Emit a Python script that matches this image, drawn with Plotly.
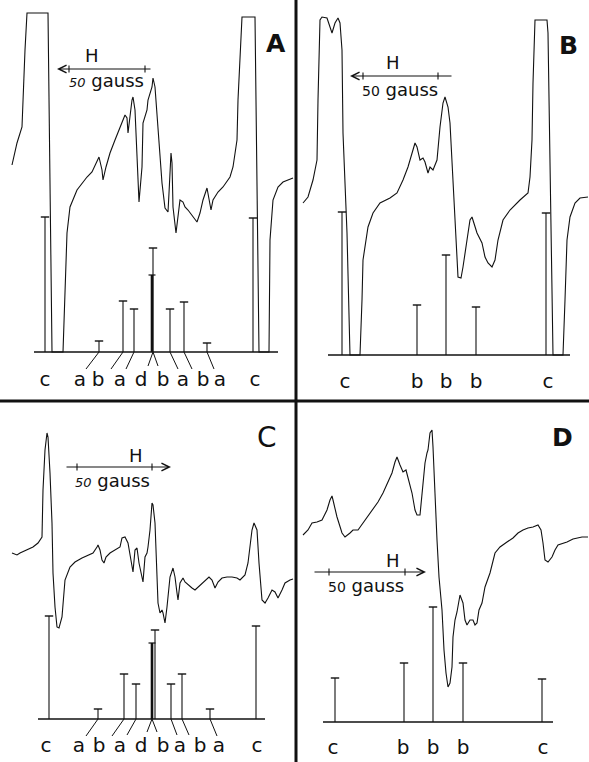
import plotly.graph_objects as go

# ---------------- data ----------------
W, H = 589, 762
XSPLIT, YSPLIT = 296, 401

# --- Panel A ---
fieldA = [12,17,22,23,25,27,48,52,63,67,70,77,87,92,97,99,102,103,106,110,115,120,125,127,128,132,133,135,137,139,
          142,143,147,148,152,153,155,158,162,165,168,169,171,172,173,176,178,180,183,185,188,192,197,200,203,207,208,
          211,213,218,223,230,233,237,238,240,242,255,259,269,270,273,278,283,293]
signalA = [187,209,225,252,302,339,339,0,0,119,145,162,175,180,192,195,182,172,185,199,212,225,237,234,219,252,255,242,192,150,
           185,229,242,252,265,274,265,219,169,144,140,159,199,189,145,119,135,152,150,145,142,137,130,139,152,164,159,
           142,152,160,165,175,185,212,252,302,335,335,0,0,112,152,165,170,174]
sticksA_pos = [45, 99, 123, 134, 153, 170, 184, 207, 253]
sticksA_h   = [135, 11, 51, 43, 104, 43, 50, 9, 134]
thickA_pos, thickA_h = [152], [77]
baseA = [34, 278]
labelsA_x = [45, 80, 98, 120, 141, 163, 183, 203, 220, 255]
labelsA   = ["c", "a", "b", "a", "d", "b", "a", "b", "a", "c"]
connA_from = [99, 123, 134, 153, 153, 170, 184, 207]
connA_to   = [86, 111, 126, 148, 158, 178, 192, 214]
connA_dy   = [-17, -17, -17, -14, -14, -17, -17, -17]

# --- Panel B ---
fieldB = [7,12,17,21,22,24,26,31,34,36,39,42,44,46,47,51,54,64,66,67,72,77,84,94,101,107,112,116,119,121,124,127,129,132,
          134,137,141,144,147,149,152,154,157,161,162,165,167,171,174,176,177,181,186,189,192,196,199,202,207,214,224,232,
          234,236,237,239,251,252,257,267,269,271,274,279,284,292]
signalB = [152,158,175,195,255,335,338,337,328,322,332,337,332,305,222,122,0,0,55,95,128,142,152,157,162,175,188,202,212,208,
           195,197,193,182,188,185,195,228,252,258,248,232,175,105,78,77,88,115,135,138,135,122,112,98,92,88,95,115,135,145,155,
           162,178,215,272,335,335,322,0,0,55,115,138,152,157,158]
sticksB_pos = [46, 121, 150, 180, 250]
sticksB_h   = [143, 50, 100, 48, 142]
baseB = [32, 274]
labelsB_x = [49, 121, 150, 180, 252]
labelsB   = ["c", "b", "b", "b", "c"]

# --- Panel C ---
fieldC = [12,17,20,27,33,38,42,43,45,47,48,50,52,53,55,57,59,62,65,70,75,82,88,93,97,98,100,102,104,106,110,115,120,122,125,
          128,131,133,135,137,139,142,143,145,147,148,150,152,153,155,157,158,160,162,163,165,167,170,173,175,177,178,180,
          183,185,188,192,195,198,202,205,209,212,215,218,222,227,232,237,240,245,248,252,254,257,259,262,265,268,272,275,
          278,282,285,290,293]
signalC = [166,164,166,169,172,176,182,229,269,286,282,246,196,146,112,92,91,102,139,152,157,161,164,166,172,174,169,159,156,
           162,166,169,172,181,182,176,156,147,169,171,156,139,137,162,166,172,189,216,214,196,142,116,106,109,106,96,112,
           142,151,142,126,119,136,141,137,134,131,129,132,136,139,142,139,131,137,141,142,142,141,139,144,156,189,196,189,
           156,119,116,121,129,127,121,129,136,139,140]
sticksC_pos = [49, 98, 124, 136, 155, 171, 182, 210, 256]
sticksC_h   = [103, 10, 45, 35, 89, 35, 45, 10, 93]
thickC_pos, thickC_h = [152], [76]
baseC = [38, 265]
labelsC_x = [46, 79, 99, 120, 141, 163, 180, 200, 219, 257]
labelsC   = ["c", "a", "b", "a", "d", "b", "a", "b", "a", "c"]
connC_from = [98, 124, 136, 152, 152, 171, 182, 210]
connC_to   = [86, 112, 127, 147, 157, 177, 189, 217]
connC_dy   = [-17, -17, -16, -13, -13, -16, -16, -17]

# --- Panel D ---
fieldD = [7,12,16,21,26,31,34,36,37,41,46,49,54,57,62,67,72,77,82,87,92,96,99,101,104,107,110,112,116,119,121,124,126,129,
          131,132,134,136,137,139,141,143,146,148,150,152,154,156,157,159,161,164,167,169,171,174,177,179,181,183,186,189,
          194,199,204,211,217,222,227,232,237,242,245,247,249,252,256,259,262,271,277,286,292]
signalD = [187,192,199,200,202,212,222,226,222,205,189,185,189,192,192,199,205,212,220,229,240,249,260,265,257,250,252,245,
           229,212,207,207,229,259,269,272,289,292,275,222,182,145,112,72,49,35,39,55,85,102,110,127,119,102,97,102,102,97,
           99,112,119,135,149,169,175,180,184,189,192,194,195,197,192,179,162,160,165,172,177,180,183,185,185]
sticksD_pos = [39, 108, 137, 167, 246]
sticksD_h   = [44, 59, 115, 59, 43]
baseD = [27, 257]
labelsD_x = [37, 107, 137, 167, 247]
labelsD   = ["c", "b", "b", "b", "c"]

# H (field direction) scale bars: head, tail, y, tick positions
hbar = {
    "A": dict(head=57, tail=152, y=283, ticks=[69, 145], Hxy=(92, 297), gxy=(106, 272)),
    "B": dict(head=54, tail=157, y=279, ticks=[67, 142], Hxy=(97, 293), gxy=(104, 266)),
    "C": dict(head=171, tail=65, y=252, ticks=[77, 152], Hxy=(136, 264), gxy=(112, 239)),
    "D": dict(head=130, tail=17, y=150, ticks=[33, 109], Hxy=(97, 162), gxy=(70, 137)),
}
panel_letter = {"A": (276, 309), "B": (272, 310), "C": (267, 282), "D": (266, 285)}

# ---------------- figure ----------------
INK = "#111111"
FONT = "DejaVu Sans"

panels = {
    # name: (x0, y0, w, h, baseline_px)
    "A": (0, 0, XSPLIT, YSPLIT, 352),
    "B": (XSPLIT, 0, W - XSPLIT, YSPLIT, 355),
    "C": (0, YSPLIT, XSPLIT, H - YSPLIT, 719),
    "D": (XSPLIT, YSPLIT, W - XSPLIT, H - YSPLIT, 722),
}
axis_ids = {"A": ("x", "y"), "B": ("x2", "y2"), "C": ("x3", "y3"), "D": ("x4", "y4")}

data = {
    "A": (fieldA, signalA, sticksA_pos, sticksA_h, baseA, labelsA_x, labelsA, -29),
    "B": (fieldB, signalB, sticksB_pos, sticksB_h, baseB, labelsB_x, labelsB, -28),
    "C": (fieldC, signalC, sticksC_pos, sticksC_h, baseC, labelsC_x, labelsC, -28),
    "D": (fieldD, signalD, sticksD_pos, sticksD_h, baseD, labelsD_x, labelsD, -27),
}
thick = {"A": (thickA_pos, thickA_h), "C": (thickC_pos, thickC_h)}
conns = {"A": (connA_from, connA_to, connA_dy), "C": (connC_from, connC_to, connC_dy)}

fig = go.Figure()
layout_axes = {}
annotations = []

for name, (x0, y0, w, h, yb) in panels.items():
    xa, ya = axis_ids[name]
    xkey = "xaxis" + xa[1:]
    ykey = "yaxis" + ya[1:]
    layout_axes[xkey] = dict(domain=[x0 / W, (x0 + w) / W], range=[0, w], visible=False, fixedrange=True)
    layout_axes[ykey] = dict(domain=[1 - (y0 + h) / H, 1 - y0 / H], range=[yb - (y0 + h), yb - y0],
                             visible=False, fixedrange=True)
    fx, sy, spos, sh, base, lx, lt, ly = data[name]

    common = dict(xaxis=xa, yaxis=ya, hoverinfo="skip", showlegend=False, cliponaxis=False)
    # spectrum trace
    fig.add_trace(go.Scatter(x=fx, y=sy, mode="lines", line=dict(color=INK, width=1.1), **common))
    # baseline of the stick diagram
    fig.add_trace(go.Scatter(x=base, y=[0, 0], mode="lines", line=dict(color=INK, width=1.4), **common))
    # sticks
    sx, syy = [], []
    for p, hh in zip(spos, sh):
        sx += [p, p, None]
        syy += [0, hh, None]
    fig.add_trace(go.Scatter(x=sx, y=syy, mode="lines", line=dict(color=INK, width=1.1), **common))
    fig.add_trace(go.Scatter(x=spos, y=sh, mode="markers",
                             marker=dict(symbol="line-ew", size=6, line=dict(color=INK, width=1.4)), **common))
    if name in thick:
        tp, th = thick[name]
        tx, ty = [], []
        for p, hh in zip(tp, th):
            tx += [p, p, None]
            ty += [0, hh, None]
        fig.add_trace(go.Scatter(x=tx, y=ty, mode="lines", line=dict(color=INK, width=2.6), **common))
        fig.add_trace(go.Scatter(x=tp, y=th, mode="markers",
                                 marker=dict(symbol="line-ew", size=5, line=dict(color=INK, width=1.2)), **common))
    if name in conns:
        cf, ct, cd = conns[name]
        cx, cy = [], []
        for a, b, d in zip(cf, ct, cd):
            cx += [a, b, None]
            cy += [0, d, None]
        fig.add_trace(go.Scatter(x=cx, y=cy, mode="lines", line=dict(color=INK, width=1.0), **common))
    # letter labels under the sticks
    fig.add_trace(go.Scatter(x=lx, y=[ly] * len(lx), mode="text", text=lt,
                             textfont=dict(family=FONT, size=20, color=INK), textposition="middle center",
                             **common))

    # H scale bar
    hb = hbar[name]
    fig.add_trace(go.Scatter(x=hb["ticks"], y=[hb["y"]] * len(hb["ticks"]), mode="markers",
                             marker=dict(symbol="line-ns", size=5, line=dict(color=INK, width=1.1)), **common))
    annotations.append(dict(x=hb["head"], y=hb["y"], ax=hb["tail"], ay=hb["y"], xref=xa, yref=ya,
                            axref=xa, ayref=ya, text="", showarrow=True, arrowhead=5, arrowsize=1.4,
                            arrowwidth=1.1, arrowcolor=INK, standoff=0, startstandoff=0))
    annotations.append(dict(x=hb["Hxy"][0], y=hb["Hxy"][1], xref=xa, yref=ya, text="H", showarrow=False,
                            font=dict(family=FONT, size=18, color=INK)))
    annotations.append(dict(x=hb["gxy"][0], y=hb["gxy"][1], xref=xa, yref=ya,
                            text="<span style='font-size:13px'><i>50</i></span> gauss" if name in ("A", "C")
                            else "<span style='font-size:14px'>50</span> gauss",
                            showarrow=False, font=dict(family=FONT, size=18, color=INK)))
    # panel letter
    px_, py_ = panel_letter[name]
    bold = name != "C"
    annotations.append(dict(x=px_, y=py_, xref=xa, yref=ya,
                            text=("<b>%s</b>" % name) if bold else name, showarrow=False,
                            font=dict(family=FONT, size=25 if name != "C" else 28, color=INK)))

fig.update_layout(
    width=W, height=H, margin=dict(l=0, r=0, t=0, b=0),
    paper_bgcolor="white", plot_bgcolor="white",
    showlegend=False, annotations=annotations,
    shapes=[
        dict(type="line", xref="paper", yref="paper", x0=XSPLIT / W, x1=XSPLIT / W, y0=0, y1=1,
             line=dict(color=INK, width=3)),
        dict(type="line", xref="paper", yref="paper", x0=0, x1=1, y0=1 - YSPLIT / H, y1=1 - YSPLIT / H,
             line=dict(color=INK, width=3)),
    ],
    **layout_axes,
)

fig.write_html("out.html", config={"displayModeBar": False, "staticPlot": True},
               post_script="document.body.style.margin='0';document.body.style.padding='0';")
